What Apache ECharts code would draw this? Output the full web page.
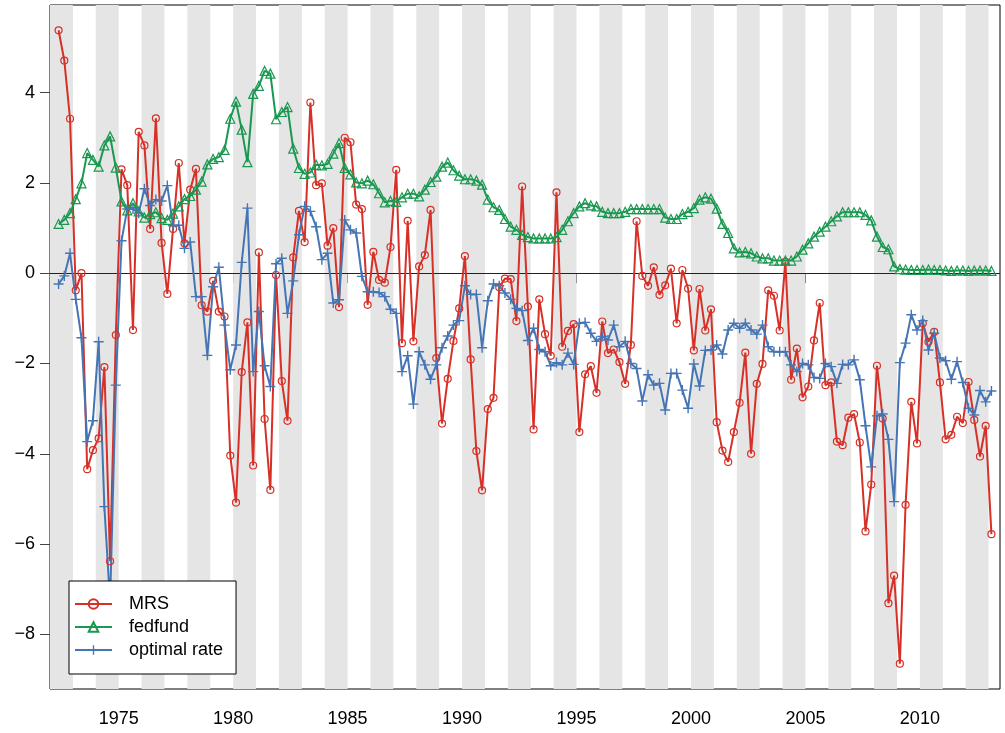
<!DOCTYPE html>
<html>
<head>
<meta charset="utf-8">
<script src="https://cdn.jsdelivr.net/npm/echarts@6/dist/echarts.min.js"></script>
<style>
  html, body { margin: 0; padding: 0; background: #fff; }
  #chart { width: 1005px; height: 733px; }
</style>
</head>
<body>
<div id="chart"></div>
<script>
// quarterly series, 1972Q2 .. 2013Q1
var startYear = 1972, startQuarter = 2;

var mrs = [
  5.38, 4.71, 3.42, -0.38, 0.00, -4.34, -3.92, -3.66, -2.08, -6.38,
  -1.37, 2.30, 1.95, -1.26, 3.13, 2.83, 0.98, 3.43, 0.67, -0.46,
  0.98, 2.44, 0.66, 1.85, 2.31, -0.71, -0.85, -0.17, -0.85, -0.96,
  -4.04, -5.08, -2.19, -1.09, -4.26, 0.46, -3.23, -4.80, -0.04, -2.39,
  -3.27, 0.35, 1.38, 0.69, 3.78, 1.95, 1.99, 0.61, 1.00, -0.75,
  3.00, 2.90, 1.52, 1.42, -0.70, 0.47, -0.15, -0.21, 0.58, 2.29,
  -1.55, 1.16, -1.51, 0.15, 0.40, 1.40, -1.88, -3.33, -2.34, -1.50,
  -0.78, 0.38, -1.91, -3.94, -4.81, -3.01, -2.76, -0.31, -0.12, -0.13,
  -1.06, 1.92, -0.74, -3.46, -0.58, -1.35, -1.83, 1.79, -1.63, -1.28,
  -1.13, -3.52, -2.24, -2.06, -2.65, -1.07, -1.77, -1.69, -1.97, -2.45,
  -1.59, 1.15, -0.06, -0.28, 0.13, -0.48, -0.27, 0.10, -1.11, 0.07,
  -0.34, -1.71, -0.35, -1.27, -0.80, -3.30, -3.93, -4.18, -3.52, -2.87,
  -1.76, -4.00, -2.45, -2.01, -0.38, -0.50, -1.27, 0.25, -2.36, -1.67,
  -2.75, -2.51, -1.49, -0.66, -2.48, -2.42, -3.73, -3.81, -3.20, -3.12,
  -3.75, -5.72, -4.68, -2.05, -3.22, -7.31, -6.70, -8.65, -5.13, -2.85,
  -3.77, -1.11, -1.52, -1.30, -2.42, -3.68, -3.58, -3.18, -3.32, -2.41,
  -3.25, -4.06, -3.38, -5.78
];

var fedfund = [
  1.09, 1.18, 1.33, 1.64, 1.99, 2.66, 2.51, 2.36, 2.83, 3.03,
  2.34, 1.59, 1.39, 1.55, 1.37, 1.23, 1.31, 1.35, 1.22, 1.18,
  1.32, 1.48, 1.64, 1.71, 1.85, 2.03, 2.41, 2.53, 2.57, 2.73,
  3.42, 3.80, 3.18, 2.46, 3.97, 4.15, 4.48, 4.42, 3.41, 3.57,
  3.68, 2.76, 2.33, 2.20, 2.23, 2.40, 2.39, 2.42, 2.65, 2.88,
  2.33, 2.19, 2.01, 1.99, 2.05, 1.97, 1.77, 1.57, 1.60, 1.58,
  1.68, 1.76, 1.76, 1.70, 1.85, 2.02, 2.14, 2.36, 2.45, 2.28,
  2.16, 2.08, 2.08, 2.05, 1.96, 1.63, 1.46, 1.40, 1.20, 1.03,
  0.96, 0.85, 0.80, 0.77, 0.77, 0.77, 0.77, 0.80, 0.96, 1.15,
  1.33, 1.48, 1.55, 1.50, 1.48, 1.36, 1.33, 1.33, 1.33, 1.36,
  1.42, 1.42, 1.42, 1.42, 1.42, 1.42, 1.23, 1.20, 1.20, 1.31,
  1.36, 1.44, 1.63, 1.68, 1.65, 1.43, 1.09, 0.89, 0.55, 0.46,
  0.47, 0.44, 0.37, 0.33, 0.33, 0.28, 0.28, 0.28, 0.28, 0.37,
  0.52, 0.66, 0.81, 0.92, 1.03, 1.15, 1.26, 1.35, 1.35, 1.35,
  1.35, 1.29, 1.17, 0.81, 0.58, 0.53, 0.15, 0.09, 0.08, 0.07,
  0.07, 0.07, 0.08, 0.07, 0.07, 0.06, 0.05, 0.06, 0.06, 0.05,
  0.06, 0.06, 0.06, 0.05
];

var optimal = [
  -0.24, -0.06, 0.44, -0.58, -1.43, -3.73, -3.27, -1.52, -5.17, -7.30,
  -2.48, 0.72, 1.42, 1.42, 1.33, 1.87, 1.50, 1.63, 1.60, 1.94,
  1.05, 1.06, 0.55, 0.69, -0.52, -0.52, -1.82, -0.30, 0.13, -1.15,
  -2.14, -1.59, 0.24, 1.44, -2.18, -0.85, -2.05, -2.51, 0.21, 0.33,
  -0.89, -0.17, 0.85, 1.48, 1.37, 1.03, 0.30, 0.44, -0.66, -0.59,
  1.18, 0.96, 0.89, -0.07, -0.41, -0.41, -0.43, -0.52, -0.80, -0.89,
  -2.18, -1.83, -2.90, -1.74, -2.03, -2.35, -2.03, -1.65, -1.39, -1.15,
  -1.05, -0.28, -0.47, -0.47, -1.65, -0.61, -0.24, -0.28, -0.44, -0.58,
  -0.78, -0.83, -1.49, -1.22, -1.69, -1.74, -2.05, -1.98, -2.03, -1.77,
  -2.02, -1.11, -1.09, -1.33, -1.51, -1.40, -1.48, -1.15, -1.63, -1.51,
  -2.00, -2.11, -2.83, -2.25, -2.48, -2.44, -3.03, -2.22, -2.22, -2.59,
  -2.99, -2.01, -2.50, -1.71, -1.70, -1.59, -1.79, -1.26, -1.11, -1.22,
  -1.11, -1.26, -1.35, -1.15, -1.63, -1.74, -1.74, -1.74, -2.03, -2.18,
  -2.00, -2.03, -2.31, -2.33, -2.00, -2.07, -2.44, -2.02, -2.03, -1.92,
  -2.36, -3.38, -4.29, -3.16, -3.12, -3.68, -5.06, -1.98, -1.55, -0.92,
  -1.26, -1.05, -1.70, -1.33, -1.88, -1.94, -2.35, -1.96, -2.42, -2.99,
  -3.14, -2.60, -2.85, -2.61
];

var seriesNames = ['MRS', 'fedfund', 'optimal rate'];
var xTicks = [1975, 1980, 1985, 1990, 1995, 2000, 2005, 2010];
var yTicks = [-8, -6, -4, -2, 0, 2, 4];

var font = "'Liberation Sans', Arial, sans-serif";
var red = '#d73027', green = '#1a9850', blue = '#4575b4';
var plusPath = 'path://M4.3,0h1.4v4.3h4.3v1.4h-4.3v4.3h-1.4v-4.3h-4.3v-1.4h4.3z';

// time of each quarter (middle of the quarter)
function toPairs(values) {
    return values.map(function (v, i) {
        var q = startQuarter - 1 + i;
        var t = startYear + Math.floor(q / 4) + ((q % 4) + 0.5) / 4;
        return [t, v];
    });
}

// grey bands for even years
var bands = [];
for (var y = 1972; y <= 2012; y += 2) {
    bands.push([{xAxis: y}, {xAxis: y + 1}]);
}

var chart = echarts.init(document.getElementById('chart'), null, {renderer: 'canvas'});

var option = {
    animation: false,
    backgroundColor: '#fff',
    grid: {
        left: 50, right: 5, top: 5, bottom: 44,
        show: true, borderColor: '#000', borderWidth: 1, backgroundColor: 'transparent'
    },
    legend: {
        data: seriesNames,
        orient: 'vertical',
        left: 69, top: 581,
        padding: [14, 13, 15, 5],
        itemGap: 5,
        itemWidth: 37,
        itemHeight: 12,
        backgroundColor: '#fff',
        borderColor: '#000',
        borderWidth: 1,
        borderRadius: 0,
        z: 10,
        textStyle: {fontFamily: font, fontSize: 18, color: '#000', padding: [0, 0, 0, 12]}
    },
    xAxis: {
        type: 'value',
        min: 1972, max: 2013.5,
        axisLine: {show: false},
        splitLine: {show: false},
        axisTick: {show: true, length: 10, customValues: xTicks, lineStyle: {color: '#444'}},
        axisLabel: {
            customValues: xTicks, fontFamily: font, fontSize: 18, color: '#000', margin: 21,
            formatter: function (v) { return String(v); }
        }
    },
    yAxis: {
        type: 'value',
        min: -9.21, max: 5.94,
        axisLine: {show: false},
        splitLine: {show: false},
        axisTick: {show: true, length: 10, customValues: yTicks, lineStyle: {color: '#444'}},
        axisLabel: {
            customValues: yTicks, fontFamily: font, fontSize: 18, color: '#000', margin: 15,
            formatter: function (v) { return v < 0 ? '\u2212' + Math.abs(v) : String(v); }
        }
    },
    series: [
        {
            name: 'bands', type: 'line', data: [], silent: true, z: 1,
            markArea: {silent: true, itemStyle: {color: '#e5e5e5'}, data: bands}
        },
        {
            name: 'zero', type: 'line', data: [], silent: true, z: 2,
            markLine: {
                silent: true, symbol: 'none', label: {show: false}, z: 2,
                lineStyle: {color: '#222', width: 1, type: 'solid'},
                data: [{yAxis: 0}]
            }
        },
        {
            name: 'MRS', type: 'line', data: toPairs(mrs), z: 3,
            symbol: 'circle', symbolSize: 7, showAllSymbol: true,
            lineStyle: {color: red, width: 2},
            itemStyle: {color: 'transparent', borderColor: red, borderWidth: 1.2}
        },
        {
            name: 'fedfund', type: 'line', data: toPairs(fedfund), z: 3,
            symbol: 'triangle', symbolSize: 9, showAllSymbol: true,
            lineStyle: {color: green, width: 2},
            itemStyle: {color: 'transparent', borderColor: green, borderWidth: 1.2}
        },
        {
            name: 'optimal rate', type: 'line', data: toPairs(optimal), z: 3,
            symbol: plusPath, symbolSize: 10, showAllSymbol: true,
            lineStyle: {color: blue, width: 2},
            itemStyle: {color: blue}
        }
    ]
};

chart.setOption(option);
</script>
</body>
</html>
